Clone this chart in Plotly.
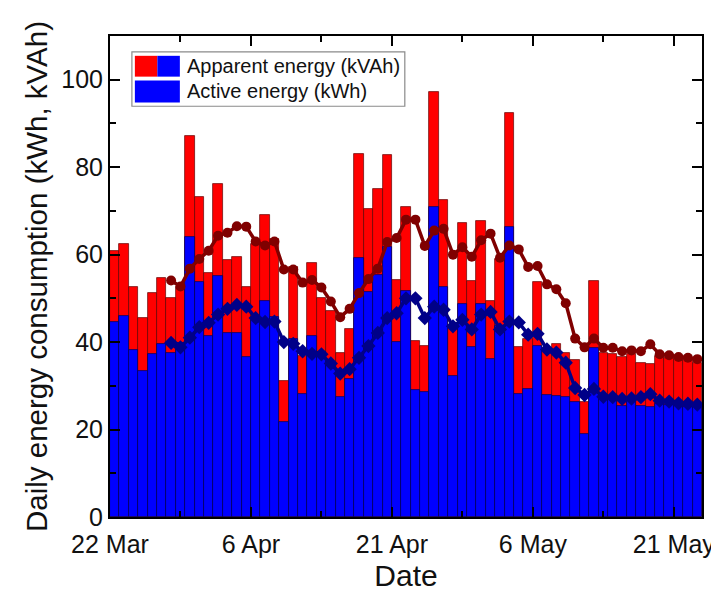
import pandas as pd
import plotly.graph_objects as go

# ---- data ----
start_date = "2020-03-22"
n_days = 63
dates = pd.date_range(start_date, periods=n_days, freq="D")

apparent_kvah = [60.8, 62.5, 52.5, 45.4, 51.2, 54.7, 50.0, 52.7, 87.2, 73.1,
                 55.7, 76.1, 58.7, 59.5, 52.7, 62.5, 69.1, 63.5, 31.1, 57.2,
                 36.8, 58.0, 50.0, 47.0, 37.5, 43.1, 83.1, 70.4, 75.0, 82.8,
                 54.2, 71.0, 40.2, 39.1, 97.1, 72.4, 42.9, 67.2, 54.0, 67.6,
                 49.3, 59.0, 92.4, 38.8, 40.6, 53.8, 38.3, 39.5, 37.6, 35.8,
                 26.2, 54.0, 37.6, 37.2, 36.6, 37.2, 35.3, 34.9, 36.8, 36.3,
                 36.1, 35.8, 35.3]

active_kwh = [44.6, 45.9, 38.2, 33.3, 37.3, 39.5, 37.6, 39.8, 64.0, 53.8,
              41.3, 55.2, 42.1, 42.1, 36.6, 45.0, 49.4, 45.8, 21.7, 40.6,
              28.1, 41.5, 37.8, 34.9, 27.4, 31.5, 59.3, 51.5, 55.4, 61.7,
              40.1, 51.6, 29.1, 28.6, 70.8, 52.7, 32.3, 48.7, 38.8, 48.8,
              36.1, 43.6, 66.3, 28.1, 29.3, 39.1, 28.0, 27.7, 27.4, 26.2,
              19.0, 38.7, 27.7, 27.4, 25.5, 26.6, 25.5, 25.2, 25.9, 25.7,
              25.5, 25.2, 25.1]

# smoothed lines, starting at the 7th day
line_start_index = 6
apparent_trend = [54.1, 52.7, 56.8, 59.0, 60.9, 64.3, 65.0, 66.5, 66.4, 63.0,
                  62.1, 63.0, 56.6, 56.6, 53.6, 54.2, 52.5, 49.3, 45.7, 47.6,
                  51.2, 54.4, 56.8, 62.9, 63.8, 68.0, 68.0, 62.0, 65.5, 65.9,
                  60.0, 61.7, 59.5, 63.3, 64.8, 59.3, 62.1, 61.2, 57.2, 57.4,
                  53.2, 52.1, 48.9, 40.8, 38.8, 40.8, 38.7, 38.7, 37.9, 38.1,
                  37.9, 39.5, 37.2, 37.0, 36.6, 36.4, 36.1]

active_trend = [39.8, 38.8, 41.0, 43.4, 44.4, 46.3, 47.6, 48.5, 48.1, 45.5,
                44.6, 44.7, 40.0, 39.6, 37.9, 37.3, 37.2, 35.1, 32.8, 33.8,
                36.4, 39.1, 42.1, 45.5, 46.6, 50.0, 50.0, 45.5, 48.1, 47.4,
                43.6, 45.1, 42.9, 46.3, 46.9, 42.9, 44.7, 44.5, 41.7, 41.9,
                38.3, 37.6, 35.3, 29.5, 27.9, 29.3, 27.5, 27.4, 27.0, 27.1,
                27.4, 28.1, 26.6, 26.4, 26.0, 25.9, 25.7]

tick_dates = ["2020-03-22", "2020-04-06", "2020-04-21", "2020-05-06", "2020-05-21"]
tick_labels = ["22 Mar", "6 Apr", "21 Apr", "6 May", "21 May"]
minor_tick_dates = ["2020-03-29 12:00", "2020-04-13 12:00", "2020-04-28 12:00",
                    "2020-05-13 12:00"]
x_range = ["2020-03-22", "2020-05-24"]

legend_labels = ["Apparent energy (kVAh)", "Active energy (kWh)"]

# ---- styles ----
RED = "#FF0000"
BLUE = "#0000FF"
DARK_RED = "#800000"
DARK_BLUE = "#000088"
FONT = "Liberation Sans, Arial, sans-serif"
DAY_MS = 86400000

trend_dates = dates[line_start_index:]

fig = go.Figure()
fig.add_trace(go.Bar(
    x=dates, y=apparent_kvah, name=legend_labels[0],
    xperiod=DAY_MS, xperiodalignment="middle", width=DAY_MS,
    marker=dict(color=RED, line=dict(color="rgba(90,0,0,0.85)", width=0.8)),
    showlegend=False))
fig.add_trace(go.Bar(
    x=dates, y=active_kwh, name=legend_labels[1],
    xperiod=DAY_MS, xperiodalignment="middle", width=DAY_MS,
    marker=dict(color=BLUE, line=dict(color="rgba(0,0,80,0.85)", width=0.8)),
    showlegend=False))
fig.add_trace(go.Scatter(
    x=trend_dates, y=apparent_trend, mode="lines+markers",
    xperiod=DAY_MS, xperiodalignment="middle",
    line=dict(color=DARK_RED, width=3.5),
    marker=dict(symbol="circle", size=10, color=DARK_RED),
    showlegend=False))
fig.add_trace(go.Scatter(
    x=trend_dates, y=active_trend, mode="lines+markers",
    xperiod=DAY_MS, xperiodalignment="middle",
    line=dict(color=DARK_BLUE, width=3.5),
    marker=dict(symbol="diamond", size=11, color=DARK_BLUE),
    showlegend=False))

# ---- hand-drawn legend (split swatch like the original) ----
box = dict(x0=0.037, x1=0.498, y0=0.854, y1=0.967)
sw_x0, sw_mid, sw_x1 = 0.042, 0.080, 0.118
rows = [(0.9155, 0.9588), (0.862, 0.9073)]
shapes = [
    dict(type="rect", xref="paper", yref="paper", **box,
         line=dict(color="#8a8a8a", width=1.2), fillcolor="white", layer="above"),
    dict(type="rect", xref="paper", yref="paper", x0=sw_x0, x1=sw_mid,
         y0=rows[0][0], y1=rows[0][1], fillcolor=RED, line=dict(width=0), layer="above"),
    dict(type="rect", xref="paper", yref="paper", x0=sw_mid, x1=sw_x1,
         y0=rows[0][0], y1=rows[0][1], fillcolor=BLUE, line=dict(width=0), layer="above"),
    dict(type="rect", xref="paper", yref="paper", x0=sw_x0, x1=sw_x1,
         y0=rows[1][0], y1=rows[1][1], fillcolor=BLUE, line=dict(width=0), layer="above"),
]
annotations = []
for (y0, y1), lab in zip(rows, legend_labels):
    annotations.append(dict(
        xref="paper", yref="paper", x=0.127, y=(y0 + y1) / 2,
        xanchor="left", yanchor="middle", text=lab, showarrow=False,
        font=dict(family=FONT, size=20, color="#111")))

fig.update_layout(
    width=719, height=591,
    margin=dict(l=102, r=12, t=28, b=77),
    paper_bgcolor="white", plot_bgcolor="white",
    barmode="overlay", bargap=0,
    font=dict(family=FONT, size=26, color="#111"),
    shapes=shapes, annotations=annotations,
)
fig.update_xaxes(
    type="date", range=x_range,
    tickmode="array", tickvals=tick_dates, ticktext=tick_labels,
    ticks="inside", ticklen=10, tickwidth=2, tickcolor="black",
    minor=dict(tickmode="array", tickvals=minor_tick_dates, ticks="inside",
               ticklen=6, tickwidth=2, tickcolor="black"),
    showline=True, linecolor="black", linewidth=2, mirror="ticks",
    showgrid=False, zeroline=False,
    tickfont=dict(size=25), ticklabelstandoff=4,
    title=dict(text="Date", font=dict(size=30), standoff=8),
)
fig.update_yaxes(
    range=[0, 110], dtick=20, tick0=0,
    ticks="inside", ticklen=10, tickwidth=2, tickcolor="black",
    minor=dict(dtick=10, ticks="inside", ticklen=6, tickwidth=2, tickcolor="black"),
    showline=True, linecolor="black", linewidth=2, mirror="ticks",
    showgrid=False, zeroline=False,
    tickfont=dict(size=25),
    title=dict(text="Daily energy consumption (kWh, kVAh)", font=dict(size=29.5), standoff=5),
)

fig.write_html("out.html")
